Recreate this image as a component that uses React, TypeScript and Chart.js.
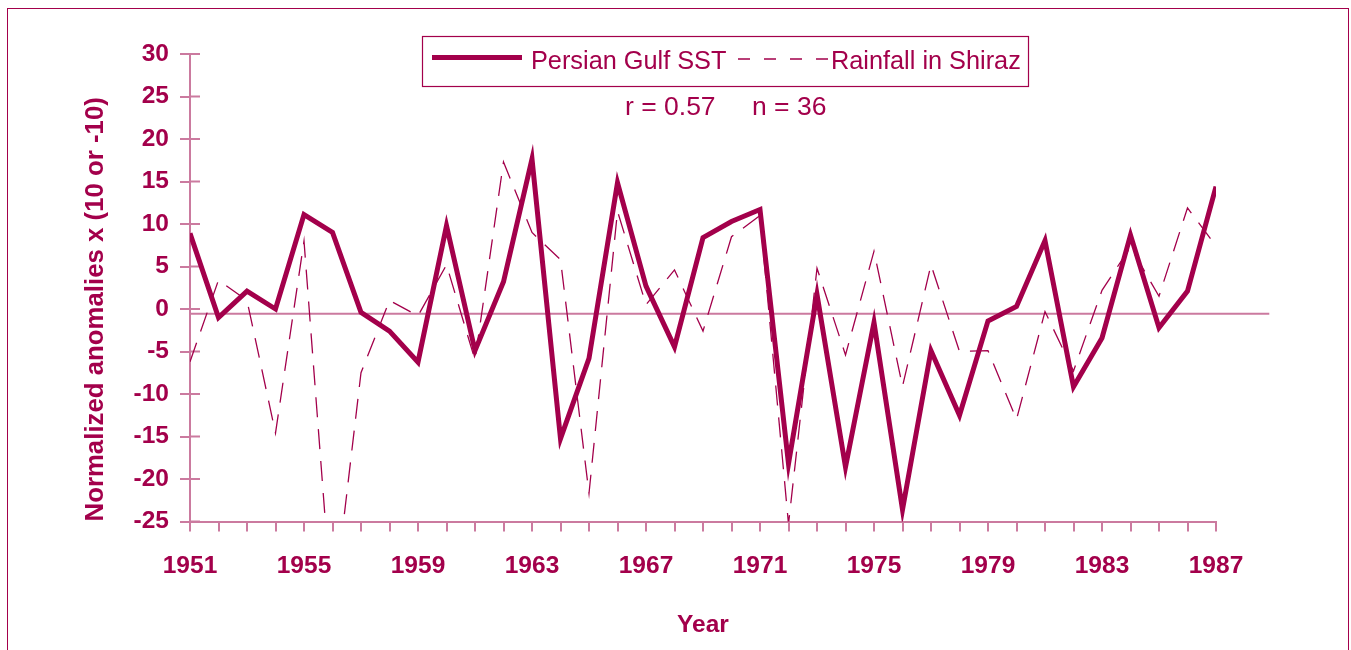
import { useEffect, useRef } from "react";
import { Chart, registerables } from "chart.js";

Chart.register(...registerables);

// ---------- data ----------
const years = [
  1951, 1952, 1953, 1954, 1955, 1956, 1957, 1958, 1959, 1960, 1961, 1962, 1963,
  1964, 1965, 1966, 1967, 1968, 1969, 1970, 1971, 1972, 1973, 1974, 1975, 1976,
  1977, 1978, 1979, 1980, 1981, 1982, 1983, 1984, 1985, 1986, 1987,
];

const sstValues = [
  8.9, -1.0, 2.1, 0.0, 11.1, 9.0, -0.4, -2.6, -6.25, 9.8, -4.9, 3.2, 17.65,
  -15.25, -5.8, 14.85, 2.7, -4.45, 8.4, 10.3, 11.7, -18.2, 1.7, -18.6, -1.6, -23.6,
  -4.9, -12.5, -1.4, 0.3, 8.05, -9.15, -3.4, 8.7, -2.2, 2.1, 14.4,
];

const rainValues = [
  -6.2, 3.4, 1.0, -14.6, 8.0, -36.0, -7.5, 1.0, -0.8, 5.2, -6.0, 17.3, 9.0,
  5.8, -21.7, 11.5, 0.5, 4.6, -2.6, 8.5, 11.0, -25.3, 4.8, -5.4, 6.8, -9.1,
  5.2, -5.0, -4.9, -13.0, -0.3, -7.3, 2.2, 7.3, 1.5, 11.9, 7.4,
];

const xLabelYears = [1951, 1955, 1959, 1963, 1967, 1971, 1975, 1979, 1983, 1987];
const yTickValues = [-25, -20, -15, -10, -5, 0, 5, 10, 15, 20, 25, 30];
const seriesLabels = ["Persian Gulf SST", "Rainfall in Shiraz"];
const statsTexts = ["r = 0.57", "n = 36"];
const xTitle = "Year";
const yTitle = "Normalized anomalies x (10 or -10)";
const zeroLineValue = -0.55;
const zeroLineEndYear = 1988.87;

// ---------- styles ----------
const MAIN = "#A3004B";
const AXIS = "#CB7A9F";
const FAMILY = '"Liberation Sans", Arial, Helvetica, sans-serif';

const decorPlugin = {
  id: "decor",
  beforeDatasetsDraw(chart: any) {
    const { ctx, chartArea } = chart;
    const x = chart.scales.x;
    const y = chart.scales.y;
    ctx.save();
    ctx.strokeStyle = AXIS;
    ctx.lineWidth = 2;
    // horizontal reference line
    const yz = y.getPixelForValue(zeroLineValue);
    ctx.beginPath();
    ctx.moveTo(chartArea.left, yz);
    ctx.lineTo(x.getPixelForValue(zeroLineEndYear), yz);
    ctx.stroke();
    // inner half of the y tick marks
    ctx.beginPath();
    y.ticks.forEach((t: any) => {
      const py = y.getPixelForValue(t.value);
      ctx.moveTo(chartArea.left, py);
      ctx.lineTo(chartArea.left + 10, py);
    });
    ctx.stroke();
    ctx.restore();
  },
  afterDraw(chart: any) {
    const { ctx } = chart;
    const ds = chart.data.datasets;
    ctx.save();
    // legend box
    ctx.strokeStyle = MAIN;
    ctx.lineWidth = 1.2;
    ctx.strokeRect(422.5, 36.5, 606, 50);
    ctx.font = `25.3px ${FAMILY}`;
    ctx.fillStyle = MAIN;
    ctx.textBaseline = "alphabetic";
    ctx.textAlign = "left";
    // solid item
    ctx.strokeStyle = ds[0].borderColor;
    ctx.lineWidth = 5;
    ctx.beginPath();
    ctx.moveTo(432, 57.5);
    ctx.lineTo(522, 57.5);
    ctx.stroke();
    ctx.fillText(ds[0].label, 531, 69);
    // dashed item
    ctx.lineWidth = 1.3;
    ctx.setLineDash([12, 14]);
    ctx.beginPath();
    ctx.moveTo(738, 59);
    ctx.lineTo(831, 59);
    ctx.stroke();
    ctx.setLineDash([]);
    ctx.fillText(ds[1].label, 831, 69);
    // statistics
    ctx.font = `26.5px ${FAMILY}`;
    ctx.fillText(statsTexts[0], 625, 115);
    ctx.fillText(statsTexts[1], 752, 115);
    ctx.restore();
  },
};

export default function App() {
  const ref = useRef<HTMLCanvasElement | null>(null);

  useEffect(() => {
    if (!ref.current) return;
    const tickFont = { family: FAMILY, size: 24.5, weight: "bold" as const };
    const chart = new Chart(ref.current, {
      type: "line",
      data: {
        datasets: [
          {
            label: seriesLabels[0],
            data: years.map((yr, i) => ({ x: yr, y: sstValues[i] })),
            borderColor: MAIN,
            backgroundColor: MAIN,
            borderWidth: 5,
            pointRadius: 0,
            borderJoinStyle: "miter",
            borderCapStyle: "butt",
            tension: 0,
            fill: false,
          },
          {
            label: seriesLabels[1],
            data: years.map((yr, i) => ({ x: yr, y: rainValues[i] })),
            borderColor: MAIN,
            backgroundColor: MAIN,
            borderWidth: 1.3,
            borderDash: [20, 12],
            pointRadius: 0,
            borderJoinStyle: "miter",
            tension: 0,
            fill: false,
          },
        ],
      },
      options: {
        animation: false,
        responsive: false,
        layout: { padding: { top: 54, right: 135, left: 0, bottom: 0 } },
        plugins: {
          legend: { display: false },
          title: { display: false },
          tooltip: { enabled: false },
        },
        scales: {
          x: {
            type: "linear",
            min: years[0],
            max: years[years.length - 1],
            afterBuildTicks: (s: any) => {
              s.ticks = years.map((v) => ({ value: v }));
            },
            afterFit: (s: any) => {
              s.height = 128.5;
            },
            ticks: {
              autoSkip: false,
              maxRotation: 0,
              padding: 20,
              color: MAIN,
              font: tickFont,
              callback: (v: any) => (xLabelYears.includes(Number(v)) ? String(v) : ""),
            },
            grid: { drawOnChartArea: false, drawTicks: true, tickLength: 10, color: AXIS, lineWidth: 2 },
            border: { display: true, color: AXIS, width: 2 },
            title: {
              display: true,
              text: xTitle,
              color: MAIN,
              font: { family: FAMILY, size: 24.5, weight: "bold" },
              padding: { top: 0, bottom: 10 },
            },
          },
          y: {
            type: "linear",
            min: yTickValues[0],
            max: yTickValues[yTickValues.length - 1],
            afterBuildTicks: (s: any) => {
              s.ticks = yTickValues.map((v) => ({ value: v }));
            },
            afterFit: (s: any) => {
              s.width = 190;
            },
            ticks: {
              padding: 11,
              color: MAIN,
              font: tickFont,
              callback: (v: any) => String(v),
            },
            grid: { drawOnChartArea: false, drawTicks: true, tickLength: 10, color: AXIS, lineWidth: 2 },
            border: { display: true, color: AXIS, width: 2 },
            title: {
              display: true,
              text: yTitle,
              align: "start",
              color: MAIN,
              font: { family: FAMILY, size: 25.8, weight: "bold" },
              padding: { top: 80, bottom: 0 },
            },
          },
        },
      } as any,
      plugins: [decorPlugin],
    });
    return () => chart.destroy();
  }, []);

  return (
    <div style={{ position: "fixed", left: 0, top: 0, width: 1351, height: 650, overflow: "hidden", background: "#fff" }}>
      <div
        style={{
          position: "absolute",
          left: 6.5,
          top: 7.5,
          width: 1342.5,
          height: 700,
          boxSizing: "border-box",
          border: `1.5px solid ${MAIN}`,
        }}
      />
      <canvas ref={ref} width={1351} height={650} style={{ position: "absolute", left: 0, top: 0 }} />
    </div>
  );
}
